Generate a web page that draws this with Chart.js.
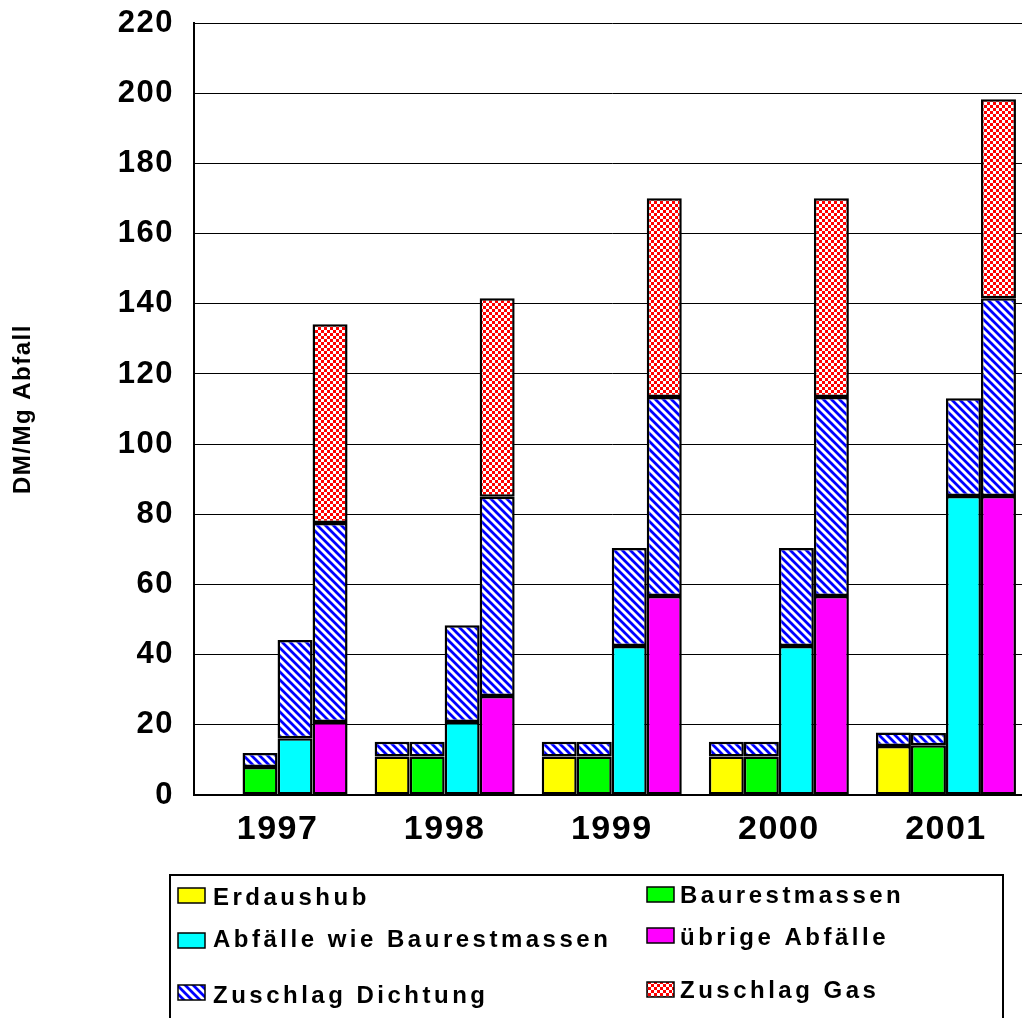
<!DOCTYPE html>
<html>
<head>
<meta charset="utf-8">
<script src="https://cdn.jsdelivr.net/npm/chart.js@4/dist/chart.umd.min.js"></script>
<style>
  html, body { margin: 0; padding: 0; background: #fff; overflow: hidden; width: 1022px; height: 1018px; }
  #wrap { width: 1040px; height: 1018px; }
</style>
</head>
<body>
<div id="wrap"><canvas id="c" width="1040" height="1018"></canvas></div>
<script>
// Deponiekosten in DM/Mg Abfall, 1997–2001
const years = ['1997', '1998', '1999', '2000', '2001'];
const erdaushub = [null, 11, 11, 11, 14];
const erdaushubDichtung = [null, 4.2, 4.2, 4.2, 3.8];
const baurestmassen = [8, 11, 11, 11, 14.2];
const baurestmassenDichtung = [4, 4.2, 4.2, 4.2, 3.5];
const abfaelleWieBaurest = [16.2, 20.8, 42.5, 42.5, 85.2];
const abfaelleWieBaurestDichtung = [28, 27.6, 27.9, 27.9, 27.9];
const uebrigeAbfaelle = [20.8, 28.2, 56.7, 56.7, 85.2];
const uebrigeDichtung = [56.7, 56.8, 56.7, 56.7, 56.4];
const uebrigeGas = [56.7, 56.6, 56.7, 56.7, 56.7];
const yTickValues = [0, 20, 40, 60, 80, 100, 120, 140, 160, 180, 200, 220];

const FONT = '"Liberation Sans", Arial, Helvetica, sans-serif';
const canvas = document.getElementById('c');
const ctx = canvas.getContext('2d');

// blue diagonal hatching on white
function makeHatch() {
  const s = 8;
  const t = document.createElement('canvas');
  t.width = s; t.height = s;
  const g = t.getContext('2d');
  g.fillStyle = '#ffffff';
  g.fillRect(0, 0, s, s);
  g.strokeStyle = '#0000ff';
  g.lineWidth = 2.8;
  g.beginPath();
  g.moveTo(-2, -2); g.lineTo(s + 2, s + 2);
  g.moveTo(-s - 2, -2); g.lineTo(2, s + 2);
  g.moveTo(s - 2, -2); g.lineTo(2 * s + 2, s + 2);
  g.stroke();
  return ctx.createPattern(t, 'repeat');
}

// red / white small checkerboard
function makeChecker() {
  const t = document.createElement('canvas');
  t.width = 6; t.height = 6;
  const g = t.getContext('2d');
  g.fillStyle = '#ff0000';
  g.fillRect(0, 0, 6, 6);
  g.fillStyle = '#ffffff';
  g.fillRect(0, 0, 3, 3);
  g.fillRect(3, 3, 3, 3);
  return ctx.createPattern(t, 'repeat');
}

const hatch = makeHatch();
const checker = makeChecker();

const YELLOW = '#ffff00', GREEN = '#00ff00', CYAN = '#00ffff', MAGENTA = '#ff00ff';

function seg(label, data, stack, fill) {
  return {
    label, data, stack,
    backgroundColor: fill,
    borderColor: '#000000',
    borderWidth: 2.5,
    borderSkipped: false
  };
}

const datasets = [
  seg('Erdaushub', erdaushub, 'erd', YELLOW),
  seg('Zuschlag Dichtung', erdaushubDichtung, 'erd', hatch),
  seg('Baurestmassen', baurestmassen, 'bau', GREEN),
  seg('Zuschlag Dichtung', baurestmassenDichtung, 'bau', hatch),
  seg('Abfälle wie Baurestmassen', abfaelleWieBaurest, 'wie', CYAN),
  seg('Zuschlag Dichtung', abfaelleWieBaurestDichtung, 'wie', hatch),
  seg('übrige Abfälle', uebrigeAbfaelle, 'ueb', MAGENTA),
  seg('Zuschlag Dichtung', uebrigeDichtung, 'ueb', hatch),
  seg('Zuschlag Gas', uebrigeGas, 'ueb', checker)
];

// legend entries, two columns inside a framed box below the plot
const legendEntries = [
  { label: 'Erdaushub', sx: 178, sy: 888, tx: 213, ty: 905 },
  { label: 'Abfälle wie Baurestmassen', sx: 178, sy: 933, tx: 213, ty: 947 },
  { label: 'Zuschlag Dichtung', sx: 178, sy: 985, tx: 213, ty: 1003 },
  { label: 'Baurestmassen', sx: 647, sy: 887, tx: 680, ty: 903 },
  { label: 'übrige Abfälle', sx: 647, sy: 928, tx: 680, ty: 945 },
  { label: 'Zuschlag Gas', sx: 647, sy: 982, tx: 680, ty: 998 }
];

const spacingPlugin = {
  id: 'letterSpacing',
  beforeLayout(chart) { chart.ctx.letterSpacing = '1.5px'; },
  beforeDraw(chart) { chart.ctx.letterSpacing = '1.5px'; }
};

const boxLegend = {
  id: 'boxLegend',
  afterDraw(chart) {
    const c = chart.ctx;
    c.save();
    c.strokeStyle = '#000000';
    c.lineWidth = 2;
    c.strokeRect(170, 875, 833, 170);
    c.font = 'bold 24px ' + FONT;
    c.letterSpacing = '3.5px';
    c.textAlign = 'left';
    c.textBaseline = 'alphabetic';
    legendEntries.forEach(e => {
      const ds = chart.data.datasets.find(d => d.label === e.label);
      c.fillStyle = ds.backgroundColor;
      c.fillRect(e.sx, e.sy, 27, 15);
      c.lineWidth = 1.5;
      c.strokeStyle = '#000000';
      c.strokeRect(e.sx, e.sy, 27, 15);
      c.fillStyle = '#000000';
      c.fillText(e.label, e.tx, e.ty);
    });
    c.restore();
  }
};

new Chart(canvas, {
  type: 'bar',
  data: { labels: years, datasets },
  options: {
    responsive: false,
    animation: false,
    devicePixelRatio: 1,
    layout: { padding: { top: 0, right: 10.5, left: 0, bottom: 0 } },
    datasets: { bar: { categoryPercentage: 0.838, barPercentage: 1.0 } },
    plugins: { legend: { display: false }, tooltip: { enabled: false } },
    scales: {
      x: {
        stacked: true,
        grid: { display: false, drawTicks: false },
        border: { display: true, color: '#000000', width: 2 },
        ticks: { color: '#000000', font: { family: FONT, size: 34, weight: 'bold' }, padding: 14, maxRotation: 0 },
        afterFit(scale) { scale.height = 223; }
      },
      y: {
        stacked: true,
        min: 0, max: 220,
        afterBuildTicks(scale) { scale.ticks = yTickValues.map(v => ({ value: v })); },
        grid: { color: '#000000', lineWidth: 1, drawTicks: false },
        border: { display: true, color: '#000000', width: 2 },
        ticks: { color: '#000000', font: { family: FONT, size: 31, weight: 'bold', lineHeight: 0.2 }, padding: 20 },
        title: {
          display: true, text: 'DM/Mg Abfall', color: '#000000',
          font: { family: FONT, size: 24, weight: 'bold' },
          padding: { top: 9, bottom: 0 }
        },
        afterFit(scale) { scale.width = 194; }
      }
    }
  },
  plugins: [spacingPlugin, boxLegend]
});
</script>
</body>
</html>
